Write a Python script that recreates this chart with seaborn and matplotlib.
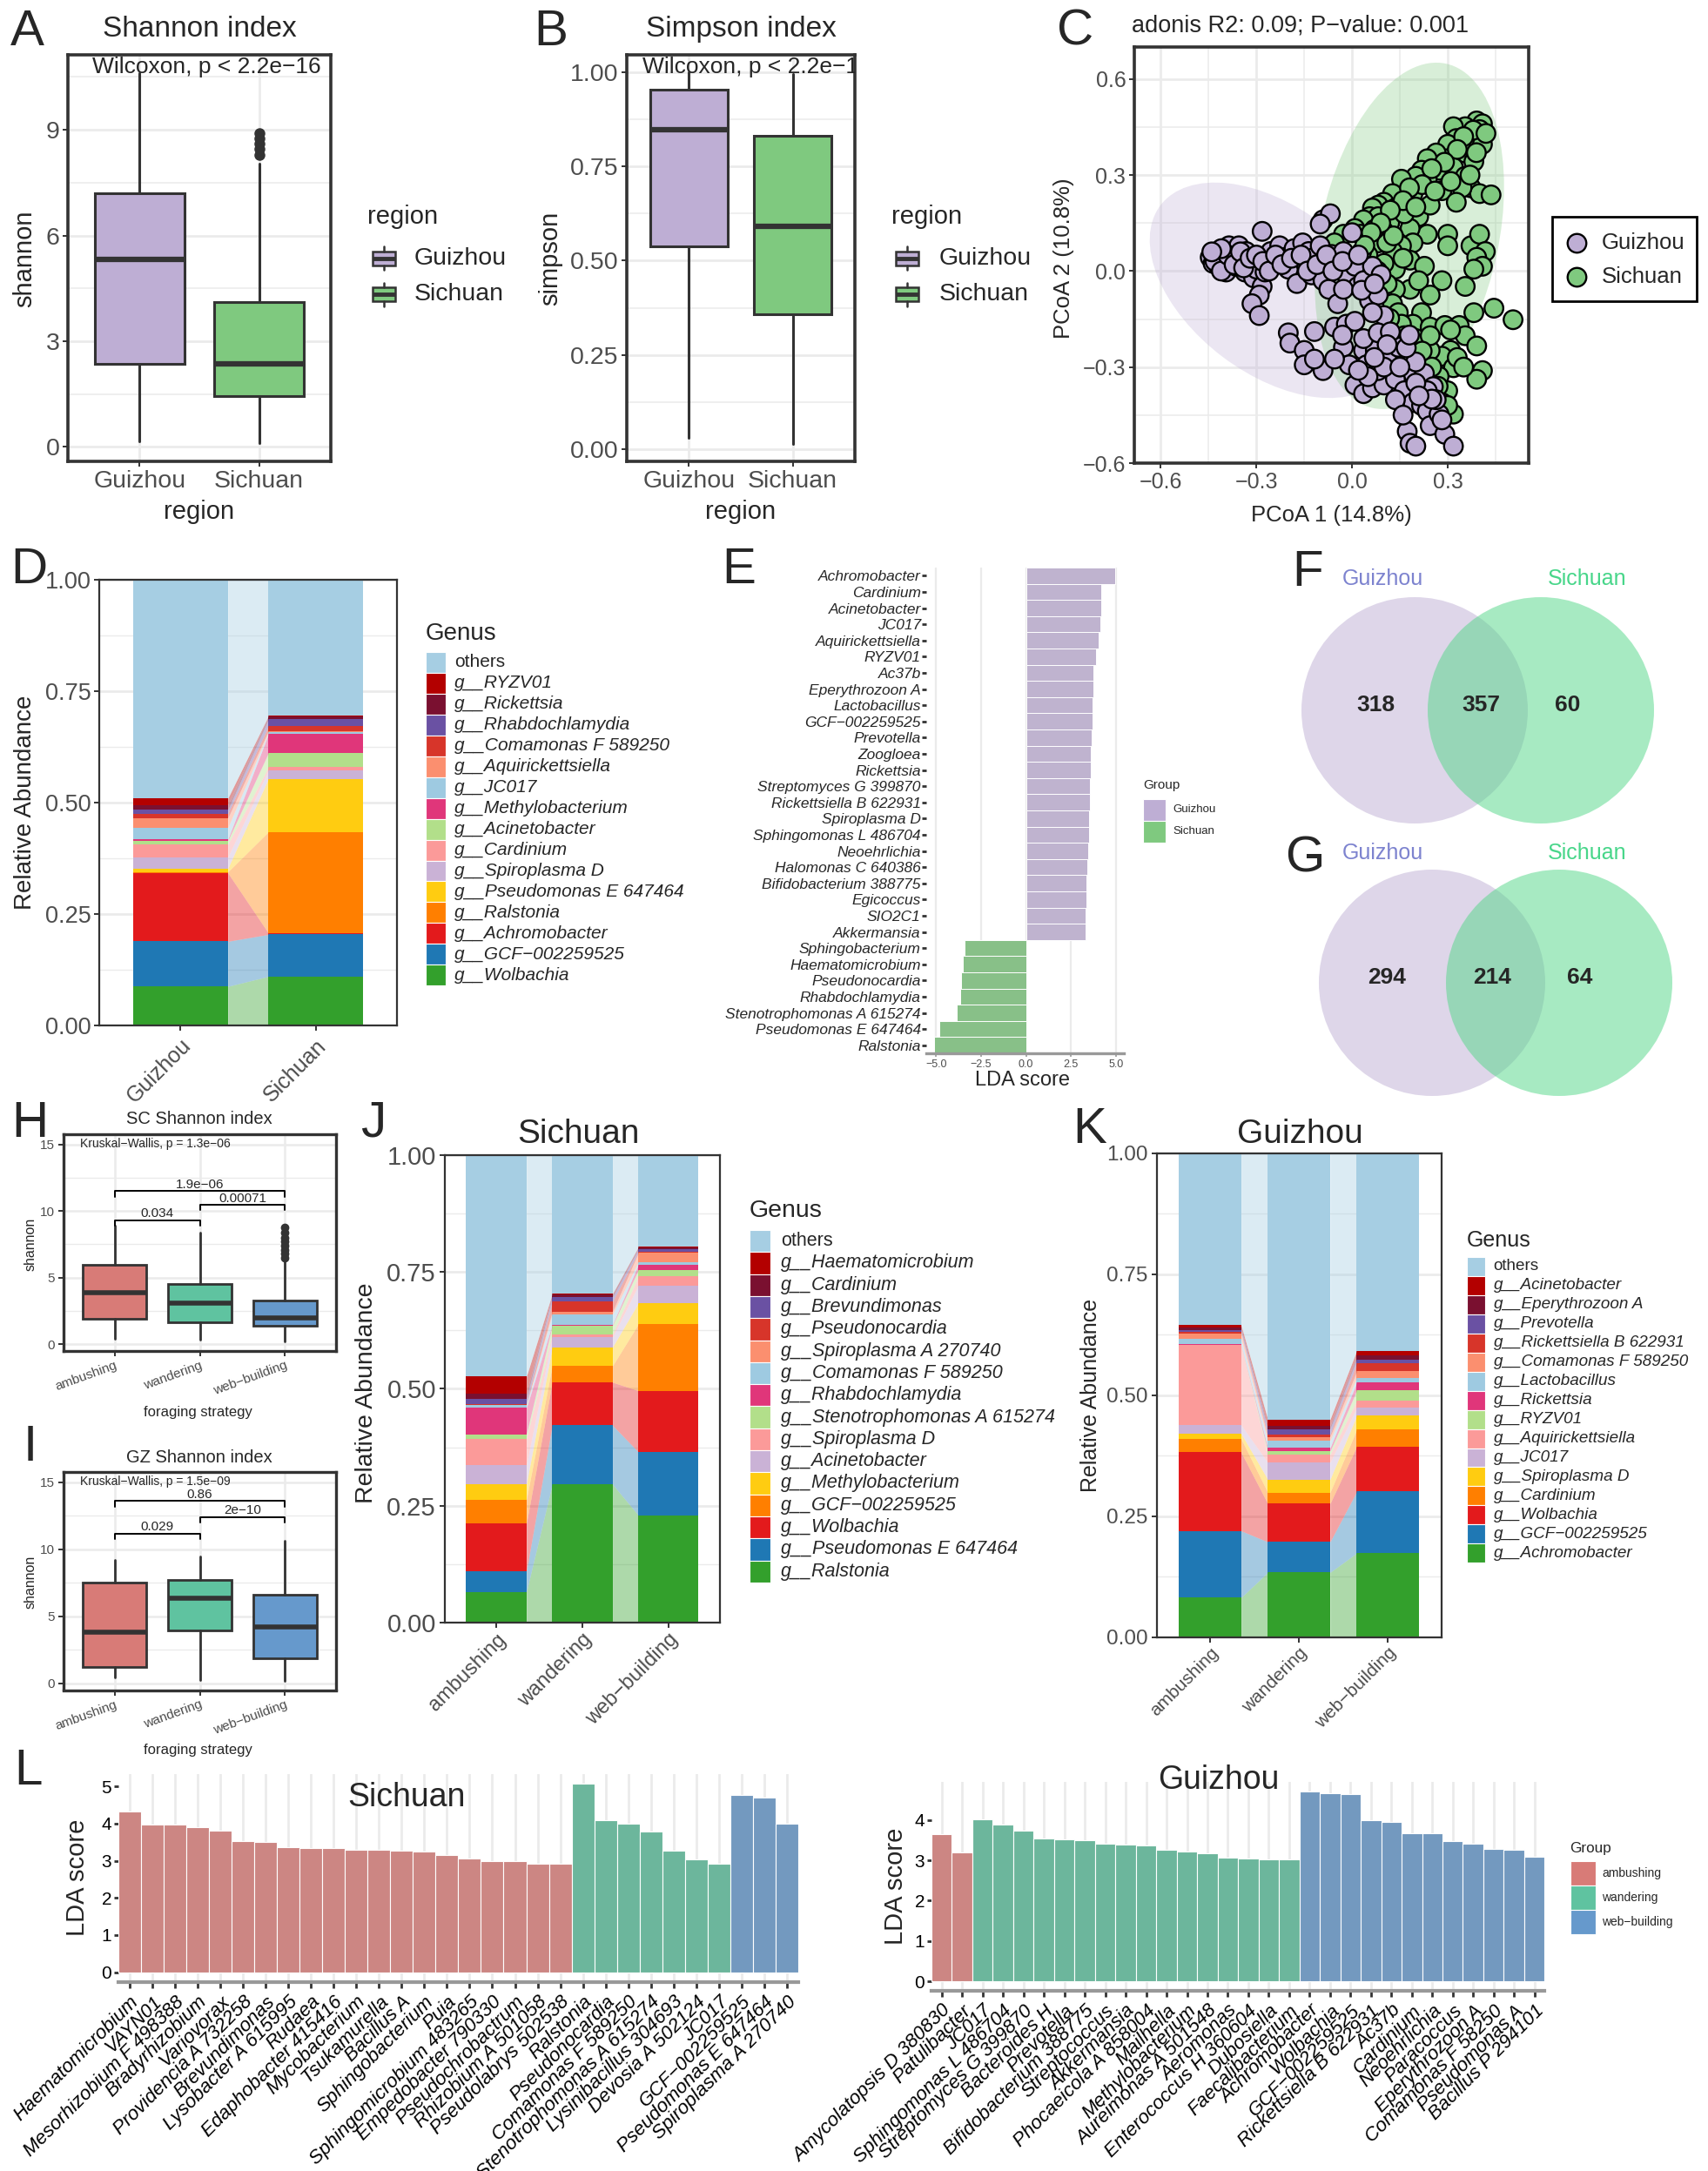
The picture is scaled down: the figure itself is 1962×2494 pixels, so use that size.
import numpy as np
import pandas as pd
import matplotlib
matplotlib.use("Agg")
import matplotlib.pyplot as plt
from matplotlib.patches import Ellipse, Rectangle, Circle
import seaborn as sns

W, H = 1962, 2494

# ---------------- data ----------------
regions = ["Guizhou", "Sichuan"]
region_colors = ["#BEAED4", "#7FC97F"]

# box summaries: whisker low, Q1, median, Q3, whisker high
shannon_box = [[0.17, 2.35, 5.32, 7.19, 10.6], [0.10, 1.45, 2.35, 4.12, 8.03]]
shannon_fliers = [[], [8.3, 8.45, 8.6, 8.75, 8.9]]
simpson_box = [[0.03, 0.538, 0.846, 0.952, 1.0], [0.015, 0.357, 0.590, 0.830, 0.995]]
simpson_fliers = [[], []]

# PCoA scores
gz_pc1 = [-0.445, -0.436, -0.427, -0.418, -0.409, -0.4, -0.395, -0.386, -0.382, -0.368, -0.364, -0.355,
          -0.345, -0.336, -0.332, -0.318, -0.309, -0.3, -0.282, -0.282, -0.291, -0.314, -0.291, -0.273,
          -0.255, -0.245, -0.227, -0.209, -0.2, -0.182, -0.173, -0.155, -0.145, -0.136, -0.127, -0.118,
          -0.1, -0.091, -0.082, -0.073, -0.064, -0.045, -0.027, -0.018, 0.0, 0.009, 0.018, 0.036, 0.055,
          0.064, 0.082, 0.091, 0.1, -0.045, -0.027, -0.091, -0.068, -0.1,
          -0.2, -0.195, -0.15, -0.15, -0.118, -0.091, -0.055, -0.018, 0.009, -0.027, 0.036, 0.073, 0.127,
          0.155, 0.173, 0.191, 0.227, 0.255, 0.009, 0.036, 0.064, 0.1, 0.136, 0.164, 0.191, 0.218, 0.236,
          0.245, 0.173, 0.182, 0.2, 0.291, 0.318, 0.273, 0.282, 0.036, 0.064, 0.082, 0.109, 0.145, 0.2,
          0.236, 0.264, 0.136, 0.082, 0.045, -0.009, -0.055, -0.118, 0.12, 0.17, 0.2, 0.1, 0.05, -0.03,
          0.16, 0.25,
          -0.43, -0.41, -0.39, -0.37, -0.35, -0.34, -0.32, -0.30, -0.28, -0.26, -0.24, -0.22, -0.19, -0.16,
          -0.14, -0.11, -0.08, -0.06, -0.03, 0.02, 0.03, 0.07, -0.41, -0.44,
          0.15, 0.21, 0.11, 0.07, 0.02, 0.18]
gz_pc2 = [0.043, 0.024, 0.052, 0.015, 0.038, 0.061, -0.003, 0.079, 0.034, 0.052, 0.015, 0.079,
          0.043, -0.003, 0.061, 0.024, -0.021, 0.006, 0.124, -0.048, -0.075, -0.102, -0.139, -0.003,
          0.061, 0.024, 0.079, 0.043, 0.006, 0.07, -0.039, 0.088, 0.024, 0.061, -0.012, 0.043,
          0.079, -0.03, 0.024, -0.057, 0.052, 0.024, 0.061, -0.012, 0.12, 0.015, -0.048, -0.03, -0.093,
          0.015, -0.075, -0.012, -0.139, -0.102, -0.057, 0.16, 0.179, 0.147,
          -0.193, -0.225, -0.248, -0.293, -0.189, -0.311, -0.175, -0.166, -0.157, -0.238, -0.248, -0.248,
          -0.211, -0.266, -0.293, -0.32, -0.32, -0.361, -0.356, -0.383, -0.365, -0.356, -0.338, -0.374,
          -0.411, -0.42, -0.438, -0.483, -0.501, -0.538, -0.547, -0.51, -0.547, -0.447, -0.465, -0.211,
          -0.13, -0.193, -0.266, -0.238, -0.284, -0.374, -0.402, -0.402, -0.311, -0.293, -0.293, -0.275,
          -0.275, -0.19, -0.24, -0.35, -0.3, -0.33, -0.2, -0.45, -0.4,
          0.03, 0.0, 0.05, 0.02, 0.06, 0.01, 0.04, 0.05, 0.03, 0.0, 0.05, 0.02, 0.04, 0.05,
          0.0, 0.02, 0.05, 0.0, 0.03, 0.05, -0.06, -0.04, 0.07, 0.06,
          -0.3, -0.39, -0.23, -0.27, -0.31, -0.2]
sc_pc1 = [0.391, 0.409, 0.4, 0.355, 0.318, 0.327, 0.373, 0.409, 0.3, 0.355, 0.382, 0.3, 0.264, 0.236,
          0.218, 0.273, 0.318, 0.355, 0.373, 0.4, 0.436, 0.345, 0.282, 0.236, 0.2, 0.155, 0.191, 0.145,
          0.127, 0.1, 0.136, 0.082, 0.064, 0.055, 0.082, 0.118, 0.209, 0.236, 0.182, 0.191, 0.155, 0.127,
          0.1, 0.082, 0.036, 0.009, 0.027, -0.027, -0.055, 0.245, 0.327, 0.164, 0.109, 0.136, 0.1,
          0.3, 0.3, 0.373, 0.4, 0.418, 0.391, 0.409, 0.382, 0.182, 0.227, 0.282, 0.355, 0.182, 0.209,
          0.245, 0.136, 0.127, 0.145, 0.218, 0.191, 0.245, 0.291, 0.336, 0.382, 0.445, 0.505, 0.355,
          0.391, 0.309, 0.282, 0.245, 0.318, 0.409, 0.391, 0.273, 0.3, 0.282, 0.318, 0.155, 0.164, 0.2,
          0.118, 0.309, 0.245, 0.05, 0.08, 0.11, 0.07, 0.13, 0.16, 0.03,
          0.38, 0.35, 0.33, 0.29, 0.25, 0.22, 0.18, 0.16, 0.12, 0.09, 0.06, 0.04, 0.2, 0.26, 0.31, 0.37,
          0.39, 0.42, 0.27, 0.3, 0.25, 0.33, 0.22, 0.35]
sc_pc2 = [0.469, 0.46, 0.442, 0.451, 0.451, 0.414, 0.414, 0.396, 0.396, 0.369, 0.342, 0.351, 0.369,
          0.351, 0.315, 0.315, 0.324, 0.296, 0.26, 0.242, 0.238, 0.26, 0.251, 0.287, 0.296, 0.287, 0.242,
          0.224, 0.242, 0.215, 0.197, 0.206, 0.197, 0.17, 0.17, 0.151, 0.17, 0.115, 0.133, 0.088, 0.079,
          0.061, 0.124, 0.088, 0.16, 0.133, 0.115, 0.115, 0.088, 0.206, 0.215, 0.179, 0.088, 0.006, 0.024,
          0.115, 0.079, 0.079, 0.115, 0.061, 0.043, 0.015, 0.006, 0.034, 0.015, -0.03, -0.048, -0.057,
          -0.03, -0.075, -0.057, -0.102, -0.13, -0.13, -0.166, -0.175, -0.17, -0.17, -0.13, -0.116, -0.152,
          -0.202, -0.234, -0.248, -0.266, -0.248, -0.302, -0.311, -0.338, -0.329, -0.374, -0.411, -0.447,
          -0.166, -0.202, -0.211, -0.148, -0.184, -0.202, 0.05, 0.0, -0.04, 0.13, 0.11, 0.04, 0.06,
          0.44, 0.42, 0.38, 0.34, 0.32, 0.27, 0.26, 0.22, 0.19, 0.15, 0.12, 0.08, 0.2, 0.25, 0.28, 0.3,
          0.37, 0.43, -0.36, -0.42, -0.3, -0.27, -0.25, -0.3]
# 95% ellipses: centre, full axes, angle
ell_centers = [(-0.25, -0.06), (0.18, 0.11)]
ell_axes = [(0.88, 0.52), (1.10, 0.56)]
ell_angles = [-37, 78]

# genus composition (legend order: others first, bottom-most genus last)
genus_pal = ["#A6CEE3", "#B30000", "#7A1030", "#6A51A3", "#D7352A", "#FB8F6F", "#9ECAE1", "#E0367A",
             "#B2DF8A", "#FB9A99", "#CAB2D6", "#FFCC11", "#FF7F00", "#E31A1C", "#1F78B4", "#33A02C"]
d_genus = ["others", "g__RYZV01", "g__Rickettsia", "g__Rhabdochlamydia", "g__Comamonas F 589250",
           "g__Aquirickettsiella", "g__JC017", "g__Methylobacterium", "g__Acinetobacter", "g__Cardinium",
           "g__Spiroplasma D", "g__Pseudomonas E 647464", "g__Ralstonia", "g__Achromobacter",
           "g__GCF\u2212002259525", "g__Wolbachia"]
d_guizhou = [0.491, 0.015, 0.011, 0.008, 0.010, 0.022, 0.026, 0.003, 0.008, 0.029, 0.025, 0.008, 0.002,
             0.1535, 0.101, 0.0875]
d_sichuan = [0.306, 0.001, 0.007, 0.015, 0.011, 0.003, 0.004, 0.042, 0.032, 0.007, 0.019, 0.119, 0.227,
             0.003, 0.094, 0.110]

strategies = ["ambushing", "wandering", "web\u2212building"]
strat_colors = ["#D87B77", "#5FC3A0", "#6699CC"]

j_genus = ["others", "g__Haematomicrobium", "g__Cardinium", "g__Brevundimonas", "g__Pseudonocardia",
           "g__Spiroplasma A 270740", "g__Comamonas F 589250", "g__Rhabdochlamydia",
           "g__Stenotrophomonas A 615274", "g__Spiroplasma D", "g__Acinetobacter", "g__Methylobacterium",
           "g__GCF\u2212002259525", "g__Wolbachia", "g__Pseudomonas E 647464", "g__Ralstonia"]
j_ambushing = [0.474, 0.036, 0.012, 0.010, 0.002, 0.001, 0.006, 0.056, 0.010, 0.056, 0.041, 0.033, 0.051,
               0.102, 0.044, 0.066]
j_wandering = [0.297, 0.001, 0.006, 0.010, 0.021, 0.006, 0.022, 0.002, 0.019, 0.006, 0.021, 0.040, 0.035,
               0.092, 0.126, 0.296]
j_webbuilding = [0.197, 0.001, 0.004, 0.006, 0.002, 0.019, 0.006, 0.011, 0.014, 0.019, 0.038, 0.045, 0.142,
                 0.131, 0.135, 0.230]

k_genus = ["others", "g__Acinetobacter", "g__Eperythrozoon A", "g__Prevotella", "g__Rickettsiella B 622931",
           "g__Comamonas F 589250", "g__Lactobacillus", "g__Rickettsia", "g__RYZV01", "g__Aquirickettsiella",
           "g__JC017", "g__Spiroplasma D", "g__Cardinium", "g__Wolbachia", "g__GCF\u2212002259525",
           "g__Achromobacter"]
k_ambushing = [0.355, 0.005, 0.005, 0.005, 0.002, 0.011, 0.012, 0.001, 0.001, 0.1645, 0.0175, 0.011, 0.028,
               0.162, 0.138, 0.082]
k_wandering = [0.550, 0.013, 0.007, 0.011, 0.005, 0.008, 0.015, 0.007, 0.007, 0.016, 0.035, 0.027, 0.023,
               0.079, 0.063, 0.134]
k_webbuilding = [0.408, 0.009, 0.009, 0.008, 0.017, 0.013, 0.010, 0.016, 0.021, 0.015, 0.016, 0.029, 0.035,
                 0.093, 0.127, 0.174]

# LEfSe Guizhou vs Sichuan
e_genus = ["Achromobacter", "Cardinium", "Acinetobacter", "JC017", "Aquirickettsiella", "RYZV01", "Ac37b",
           "Eperythrozoon A", "Lactobacillus", "GCF\u2212002259525", "Prevotella", "Zoogloea", "Rickettsia",
           "Streptomyces G 399870", "Rickettsiella B 622931", "Spiroplasma D", "Sphingomonas L 486704",
           "Neoehrlichia", "Halomonas C 640386", "Bifidobacterium 388775", "Egicoccus", "SIO2C1",
           "Akkermansia", "Sphingobacterium", "Haematomicrobium", "Pseudonocardia", "Rhabdochlamydia",
           "Stenotrophomonas A 615274", "Pseudomonas E 647464", "Ralstonia"]
e_score = [4.97, 4.17, 4.17, 4.14, 4.05, 3.88, 3.75, 3.74, 3.70, 3.69, 3.65, 3.62, 3.60, 3.56, 3.56, 3.51,
           3.49, 3.46, 3.43, 3.37, 3.36, 3.34, 3.30, -3.43, -3.51, -3.62, -3.67, -3.84, -4.83, -5.12]
e_group = ["Guizhou"] * 23 + ["Sichuan"] * 7

# Venn counts: Guizhou only, shared, Sichuan only
f_counts = [318, 357, 60]
g_counts = [294, 214, 64]

# Shannon by foraging strategy
h_box = [[0.42, 1.92, 3.87, 5.95, 8.88], [0.36, 1.63, 3.06, 4.52, 8.40], [0.20, 1.37, 1.99, 3.29, 6.38]]
h_fliers = [[], [], [6.5, 6.8, 7.1, 7.4, 7.7, 8.0, 8.4, 8.75]]
h_tests = [(1, 2, "0.034", 9.31), (2, 3, "0.00071", 10.45), (1, 3, "1.9e\u221206", 11.49)]
i_box = [[0.42, 1.23, 3.82, 7.48, 9.17], [0.23, 3.92, 6.35, 7.71, 9.49], [0.16, 1.88, 4.18, 6.58, 10.63]]
i_fliers = [[], [], []]
i_tests = [(1, 2, "0.029", 11.18), (2, 3, "2e\u221210", 12.41), (1, 3, "0.86", 13.6)]

# LEfSe by foraging strategy
ls_genus = ["Haematomicrobium", "VAYN01", "Mesorhizobium F 498388", "Bradyrhizobium", "Variovorax",
            "Providencia A 732258", "Brevundimonas", "Lysobacter A 615995", "Rudaea", "Edaphobacter 415416",
            "Mycobacterium", "Tsukamurella", "Bacillus A", "Sphingobacterium", "Puia",
            "Sphingomicrobium 483265", "Empedobacter 790330", "Pseudochrobactrum", "Rhizobium A 501058",
            "Pseudolabrys 502538", "Ralstonia", "Pseudonocardia", "Comamonas F 589250",
            "Stenotrophomonas A 615274", "Lysinibacillus 304693", "Devosia A 502124", "JC017",
            "GCF\u2212002259525", "Pseudomonas E 647464", "Spiroplasma A 270740"]
ls_score = [4.33, 3.98, 3.97, 3.91, 3.80, 3.52, 3.50, 3.375, 3.35, 3.34, 3.30, 3.30, 3.28, 3.25, 3.15,
            3.06, 3.00, 2.98, 2.93, 2.93, 5.08, 4.09, 3.99, 3.79, 3.28, 3.04, 2.92, 4.77, 4.70, 3.99]
ls_group = ["ambushing"] * 20 + ["wandering"] * 7 + ["web\u2212building"] * 3
lg_genus = ["Amycolatopsis D 380830", "Patulibacter", "JC017", "Sphingomonas L 486704",
            "Streptomyces G 399870", "Bacteroides H", "Prevotella", "Bifidobacterium 388775", "Streptococcus",
            "Akkermansia", "Phocaeicola A 858004", "Mailhella", "Methylobacterium", "Aureimonas A 501548",
            "Aeromonas", "Enterococcus H 360604", "Dubosiella", "Faecalibacterium", "Achromobacter",
            "Wolbachia", "GCF\u2212002259525", "Rickettsiella B 622931", "Ac37b", "Cardinium", "Neoehrlichia",
            "Paracoccus", "Eperythrozoon A", "Comamonas F 58250", "Pseudomonas A", "Bacillus P 294101"]
lg_score = [3.64, 3.19, 4.01, 3.88, 3.73, 3.55, 3.51, 3.49, 3.42, 3.38, 3.36, 3.26, 3.21, 3.17, 3.06, 3.05,
            3.03, 3.02, 4.71, 4.67, 4.65, 4.00, 3.95, 3.66, 3.66, 3.47, 3.42, 3.28, 3.25, 3.09]
lg_group = ["ambushing"] * 2 + ["wandering"] * 16 + ["web\u2212building"] * 12

# ---------------- style ----------------
sns.set_theme(style="white")
plt.rcParams["font.family"] = ["Liberation Sans", "DejaVu Sans"]
plt.rcParams["axes.unicode_minus"] = True

GRID = "#EBEBEB"
DARK = "#333333"
TICKC = "#4D4D4D"

fig = plt.figure(figsize=(W / 100, H / 100), dpi=100)
fig.patch.set_facecolor("white")


def px_ax(x0, y0, x1, y1):
    return fig.add_axes([x0 / W, 1 - y1 / H, (x1 - x0) / W, (y1 - y0) / H])


def bw_frame(ax, spine_lw, grid_lw, fs, minor_x=False):
    ax.set_axisbelow(True)
    ax.grid(True, which="major", color=GRID, linewidth=grid_lw)
    ax.grid(True, which="minor", axis="both" if minor_x else "y", color=GRID, linewidth=grid_lw * 0.55)
    for sp in ax.spines.values():
        sp.set_visible(True)
        sp.set_color(DARK)
        sp.set_linewidth(spine_lw)
    ax.tick_params(which="major", length=4, width=1.4, color=DARK, labelcolor=TICKC, labelsize=fs,
                   pad=3, left=True, bottom=True)
    ax.tick_params(which="minor", length=0, left=False, bottom=False)


def box_panel(ax, stats, fliers, colors, lw, med_lw, ms):
    bstats = [dict(whislo=s[0], q1=s[1], med=s[2], q3=s[3], whishi=s[4], fliers=f)
              for s, f in zip(stats, fliers)]
    art = ax.bxp(bstats, positions=range(1, len(stats) + 1), widths=0.75, patch_artist=True,
                 showcaps=False, boxprops=dict(edgecolor=DARK, linewidth=lw),
                 whiskerprops=dict(color=DARK, linewidth=lw),
                 medianprops=dict(color=DARK, linewidth=med_lw, solid_capstyle="butt"),
                 flierprops=dict(marker="o", markerfacecolor=DARK, markeredgecolor=DARK, markersize=ms))
    for b, c in zip(art["boxes"], colors):
        b.set_facecolor(c)
    ax.set_xlim(0.4, len(stats) + 0.6)


def alluvial(ax, groups_vals, colors, width=0.7):
    vals = np.array(groups_vals).T
    n = vals.shape[1]
    xs = np.arange(1, n + 1)
    base = np.zeros(n)
    for row, col in zip(vals[::-1], colors[::-1]):
        ax.bar(xs, row, bottom=base, width=width, color=col, linewidth=0, zorder=2)
        for i in range(n - 1):
            ax.fill_between([xs[i] + width / 2, xs[i + 1] - width / 2], [base[i], base[i + 1]],
                            [base[i] + row[i], base[i + 1] + row[i + 1]], color=col, alpha=0.4,
                            linewidth=0, zorder=2)
        base = base + row
    ax.set_xlim(0.4, n + 0.6)
    ax.set_ylim(0, 1)
    ax.set_axisbelow(True)
    ax.set_yticks([0, 0.25, 0.5, 0.75, 1.0])
    ax.set_yticks([0.125, 0.375, 0.625, 0.875], minor=True)
    ax.grid(True, which="major", axis="y", color=GRID, linewidth=2)
    ax.grid(True, which="minor", axis="y", color=GRID, linewidth=1)
    for sp in ax.spines.values():
        sp.set_visible(True)
        sp.set_color(DARK)
        sp.set_linewidth(1.6)
    ax.set_xticks(xs)


# ---------------- A: Shannon ----------------
axA = px_ax(78, 63, 380, 530)
box_panel(axA, shannon_box, shannon_fliers, region_colors, 2.2, 4.5, 8)
axA.set_ylim(-0.41, 11.13)
axA.set_yticks([0, 3, 6, 9])
axA.set_yticks([1.5, 4.5, 7.5, 10.5], minor=True)
axA.set_xticks([1, 2])
axA.set_xticklabels(regions)
bw_frame(axA, 2.6, 2.0, 20.5)
axA.text(0.093, 0.955, "Wilcoxon, p < 2.2e\u221216", transform=axA.transAxes, fontsize=19,
         va="baseline", ha="left")

# ---------------- B: Simpson ----------------
axB = px_ax(720, 63, 982, 530)
box_panel(axB, simpson_box, simpson_fliers, region_colors, 2.2, 4.5, 8)
axB.set_ylim(-0.032, 1.045)
axB.set_yticks([0, 0.25, 0.5, 0.75, 1.0])
axB.set_yticklabels(["0.00", "0.25", "0.50", "0.75", "1.00"])
axB.set_yticks([0.125, 0.375, 0.625, 0.875], minor=True)
axB.set_xticks([1, 2])
axB.set_xticklabels(regions)
bw_frame(axB, 2.6, 2.0, 20.5)
axB.text(0.069, 0.955, "Wilcoxon, p < 2.2e\u221216", transform=axB.transAxes, fontsize=19,
         va="baseline", ha="left", clip_on=True)

# ---------------- C: PCoA ----------------
axC = px_ax(1303, 54, 1756, 532)
for (cx, cy), (ew, eh), ang, col in zip(ell_centers, ell_axes, ell_angles, region_colors):
    axC.add_patch(Ellipse((cx, cy), ew, eh, angle=ang, facecolor=col, alpha=0.3, linewidth=0, zorder=1))
pcoa = pd.DataFrame({"PC1": sc_pc1 + gz_pc1, "PC2": sc_pc2 + gz_pc2,
                     "region": ["Sichuan"] * len(sc_pc1) + ["Guizhou"] * len(gz_pc1)})
sns.scatterplot(data=pcoa, x="PC1", y="PC2", hue="region", palette=dict(zip(regions, region_colors)),
                s=240, edgecolor="black", linewidth=1.7, legend=False, ax=axC, zorder=3)
axC.set_xlim(-0.683, 0.554)
axC.set_ylim(-0.6, 0.70)
c_xt = [-0.6, -0.3, 0.0, 0.3]
c_yt = [-0.6, -0.3, 0.0, 0.3, 0.6]
axC.set_xticks(c_xt)
axC.set_xticklabels([f"{v:.1f}".replace("-", "\u2212") for v in c_xt])
axC.set_yticks(c_yt)
axC.set_yticklabels([f"{v:.1f}".replace("-", "\u2212") for v in c_yt])
axC.set_xticks([-0.45, -0.15, 0.15, 0.45], minor=True)
axC.set_yticks([-0.45, -0.15, 0.15, 0.45], minor=True)
bw_frame(axC, 2.6, 2.0, 18, minor_x=True)
axC.set_xlabel("")
axC.set_ylabel("")

# ---------------- D: composition by region ----------------
axD = px_ax(114, 665.5, 456, 1178)
alluvial(axD, [d_guizhou, d_sichuan], genus_pal)
axD.set_yticklabels(["0.00", "0.25", "0.50", "0.75", "1.00"])
axD.set_xticklabels(regions, rotation=45, ha="right", va="top", rotation_mode="anchor")
axD.tick_params(axis="y", length=4, width=1.4, color=DARK, labelcolor=TICKC, labelsize=19.5, left=True, pad=3)
axD.tick_params(axis="x", length=4, width=1.4, color=DARK, labelcolor=TICKC, labelsize=18, bottom=True, pad=4)

# ---------------- E: LDA region ----------------
axE = px_ax(1064, 652, 1291, 1210)
lda_df = pd.DataFrame({"genus": e_genus, "score": e_score, "group": e_group})
sns.barplot(data=lda_df, y="genus", x="score", hue="group", order=e_genus, hue_order=regions,
            palette=dict(zip(regions, region_colors)), dodge=False, width=1.0, orient="h",
            errorbar=None, legend=False, edgecolor="white", linewidth=0.7, ax=axE)
axE.set_ylim(len(e_genus) - 0.5, -0.5)
axE.set_xlim(-5.55, 5.45)
axE.set_xticks([-5, -2.5, 0, 2.5, 5])
axE.set_xticklabels(["\u22125.0", "\u22122.5", "0.0", "2.5", "5.0"])
axE.set_axisbelow(True)
axE.grid(True, axis="x", color=GRID, linewidth=1.6)
for s in ["top", "right", "left"]:
    axE.spines[s].set_visible(False)
axE.spines["bottom"].set_color("#999999")
axE.spines["bottom"].set_linewidth(2.4)
axE.tick_params(axis="x", length=3, width=1.2, color="#999999", labelcolor=TICKC, labelsize=9,
                bottom=True, pad=2)
axE.tick_params(axis="y", length=3.5, width=2, color=DARK, labelsize=12.5, left=True, pad=1)
for t in axE.get_yticklabels():
    t.set_fontstyle("italic")
axE.set_xlabel("")
axE.set_ylabel("")


# ---------------- H / I: Shannon by strategy ----------------
def strat_box(ax, stats, fliers, tests, kw_text):
    box_panel(ax, stats, fliers, strat_colors, 2.0, 4.0, 6)
    ax.set_ylim(-0.52, 15.77)
    ax.set_yticks([0, 5, 10, 15])
    ax.set_yticks([2.5, 7.5, 12.5], minor=True)
    ax.set_xticks([1, 2, 3])
    ax.set_xticklabels(strategies, rotation=20, ha="right", va="top", rotation_mode="anchor")
    bw_frame(ax, 2.4, 1.8, 11)
    for x1, x2, lab, y in tests:
        ax.plot([x1, x1, x2, x2], [y - 0.4, y, y, y - 0.4], color="black", linewidth=1.4)
        ax.text((x1 + x2) / 2, y + 0.05, lab, ha="center", va="bottom", fontsize=11)
    ax.text(0.59, 15.05, kw_text, ha="left", va="center", fontsize=10)


axH = px_ax(73, 1303, 386, 1552)
strat_box(axH, h_box, h_fliers, h_tests, "Kruskal\u2212Wallis, p = 1.3e\u221206")
axI = px_ax(73, 1691, 386, 1941.5)
strat_box(axI, i_box, i_fliers, i_tests, "Kruskal\u2212Wallis, p = 1.5e\u221209")

# ---------------- J / K: composition by strategy ----------------
axJ = px_ax(510.7, 1326.5, 827.2, 1864.3)
alluvial(axJ, [j_ambushing, j_wandering, j_webbuilding], genus_pal)
axJ.set_yticklabels(["0.00", "0.25", "0.50", "0.75", "1.00"])
axJ.set_xticklabels(strategies, rotation=45, ha="right", va="top", rotation_mode="anchor")
axJ.tick_params(axis="y", length=4, width=1.4, color=DARK, labelcolor=TICKC, labelsize=21, left=True, pad=3)
axJ.tick_params(axis="x", length=4, width=1.4, color=DARK, labelcolor=TICKC, labelsize=17, bottom=True, pad=2)

axK = px_ax(1328.5, 1324.6, 1655.6, 1880.9)
alluvial(axK, [k_ambushing, k_wandering, k_webbuilding], genus_pal)
axK.set_yticklabels(["0.00", "0.25", "0.50", "0.75", "1.00"])
axK.set_xticklabels(strategies, rotation=45, ha="right", va="top", rotation_mode="anchor")
axK.tick_params(axis="y", length=4, width=1.4, color=DARK, labelcolor=TICKC, labelsize=17.5, left=True, pad=3)
axK.tick_params(axis="x", length=4, width=1.4, color=DARK, labelcolor=TICKC, labelsize=15, bottom=True, pad=2)


# ---------------- L: LDA by strategy ----------------
def lda_strat(ax, names, scores, groups, ylim, yticks):
    df = pd.DataFrame({"genus": names, "score": scores, "group": groups})
    sns.barplot(data=df, x="genus", y="score", hue="group", order=names, hue_order=strategies,
                palette=dict(zip(strategies, strat_colors)), dodge=False, width=1.0, errorbar=None,
                legend=False, edgecolor="white", linewidth=0.8, ax=ax)
    ax.set_xlim(-0.5, len(names) - 0.5)
    ax.set_ylim(*ylim)
    ax.set_yticks(yticks)
    ax.set_axisbelow(True)
    ax.grid(True, axis="x", color=GRID, linewidth=2)
    for s in ["top", "right", "left"]:
        ax.spines[s].set_visible(False)
    ax.spines["bottom"].set_color("#999999")
    ax.spines["bottom"].set_linewidth(3)
    ax.set_xticks(range(len(names)))
    ax.set_xticklabels(names, rotation=45, ha="right", va="top", rotation_mode="anchor",
                       fontstyle="italic")
    ax.tick_params(axis="x", length=5, width=2, color=DARK, labelsize=16, labelcolor="black",
                   bottom=True, pad=4)
    ax.tick_params(axis="y", length=3.5, width=2, color=DARK, labelsize=15, labelcolor="black",
                   left=True, pad=2)
    ax.set_xlabel("")
    ax.set_ylabel("")


axLS = px_ax(135.8, 2038, 917, 2276.5)
lda_strat(axLS, ls_genus, ls_score, ls_group, (-0.253, 5.33), [0, 1, 2, 3, 4, 5])
axLG = px_ax(1070, 2046.7, 1774.4, 2287)
lda_strat(axLG, lg_genus, lg_score, lg_group, (-0.236, 4.95), [0, 1, 2, 3, 4])

# ---------------- overlay: letters, titles, legends, Venn ----------------
ov = fig.add_axes([0, 0, 1, 1], zorder=20)
ov.set_xlim(0, W)
ov.set_ylim(H, 0)
ov.axis("off")
ov.patch.set_alpha(0)

for lab, x, y in [("A", 12, 52), ("B", 613, 52), ("C", 1214, 52), ("D", 12, 670), ("E", 829, 670),
                  ("F", 1484, 673), ("G", 1476, 1001), ("H", 13, 1306), ("I", 27, 1678),
                  ("J", 414, 1306), ("K", 1232, 1313), ("L", 16, 2050)]:
    ov.text(x, y, lab, fontsize=42, ha="left", va="baseline")

ov.text(229, 42, "Shannon index", fontsize=24, ha="center", va="baseline")
ov.text(851, 42, "Simpson index", fontsize=24, ha="center", va="baseline")
ov.text(1300, 37, "adonis R2: 0.09; P\u2212value: 0.001", fontsize=19.5, ha="left", va="baseline")

# axis titles
ov.text(28, 297, "shannon", fontsize=21, rotation=90, ha="center", va="center")
ov.text(229, 588, "region", fontsize=21, ha="center", va="center")
ov.text(632, 297, "simpson", fontsize=21, rotation=90, ha="center", va="center")
ov.text(851, 588, "region", fontsize=21, ha="center", va="center")
ov.text(1222, 297, "PCoA 2 (10.8%)", fontsize=18.5, rotation=90, ha="center", va="center")
ov.text(1529, 592, "PCoA 1 (14.8%)", fontsize=18.5, ha="center", va="center")
ov.text(29, 922, "Relative Abundance", fontsize=20, rotation=90, ha="center", va="center")
ov.text(1175, 1241, "LDA score", fontsize=17, ha="center", va="center")
ov.text(421, 1600, "Relative Abundance", fontsize=20.5, rotation=90, ha="center", va="center")
ov.text(1253, 1603, "Relative Abundance", fontsize=18, rotation=90, ha="center", va="center")
ov.text(35, 1429, "shannon", fontsize=11.5, rotation=90, ha="center", va="center")
ov.text(35, 1817, "shannon", fontsize=11.5, rotation=90, ha="center", va="center")
ov.text(227, 1623, "foraging strategy", fontsize=12, ha="center", va="center")
ov.text(227, 2011, "foraging strategy", fontsize=12, ha="center", va="center")
ov.text(229, 1291, "SC Shannon index", fontsize=14.5, ha="center", va="baseline")
ov.text(229, 1680, "GZ Shannon index", fontsize=14.5, ha="center", va="baseline")
ov.text(664, 1313, "Sichuan", fontsize=28, ha="center", va="baseline")
ov.text(1493, 1313, "Guizhou", fontsize=28, ha="center", va="baseline")
ov.text(467, 2075, "Sichuan", fontsize=27, ha="center", va="baseline")
ov.text(1400, 2055, "Guizhou", fontsize=27, ha="center", va="baseline")
ov.text(89, 2157, "LDA score", fontsize=21, rotation=90, ha="center", va="center")
ov.text(1029, 2167, "LDA score", fontsize=21, rotation=90, ha="center", va="center")


def box_key(x0, yc, size, color):
    cx = x0 + size / 2
    y0 = yc - size / 2
    ov.plot([cx, cx], [y0 + 0.08 * size, y0 + 0.25 * size], color=DARK, lw=1.8)
    ov.plot([cx, cx], [y0 + 0.75 * size, y0 + 0.92 * size], color=DARK, lw=1.8)
    ov.add_patch(Rectangle((x0 + 0.1 * size, y0 + 0.25 * size), 0.8 * size, 0.5 * size,
                           facecolor=color, edgecolor=DARK, lw=1.8))
    ov.plot([x0 + 0.1 * size, x0 + 0.9 * size], [yc, yc], color=DARK, lw=3.5, solid_capstyle="butt")


for lx, kx, tx in [(422, 425, 476), (1024, 1026, 1079)]:
    ov.text(lx, 257, "region", fontsize=21, ha="left", va="baseline")
    for yc, nm, col in zip([296.5, 338.4], regions, region_colors):
        box_key(kx, yc, 32, col)
        ov.text(tx, yc, nm, fontsize=20.5, ha="left", va="center")

# C legend
ov.add_patch(Rectangle((1783, 248.5), 166, 97.5, facecolor="white", edgecolor="black", lw=2, zorder=1))
for yc, nm, col in zip([278.5, 317.6], regions, region_colors):
    ov.scatter([1811], [yc], s=240, facecolor=col, edgecolor="black", linewidth=1.7, zorder=2)
    ov.text(1840, yc, nm, fontsize=18.5, ha="left", va="center", zorder=2)


def genus_legend(x, title_base, first_top, step, key_w, gap, names, colors, title_fs, fs):
    ov.text(x, title_base, "Genus", fontsize=title_fs, ha="left", va="baseline")
    for i, (nm, col) in enumerate(zip(names, colors)):
        top = first_top + i * step
        ov.add_patch(Rectangle((x, top), key_w, step, facecolor=col, edgecolor="white", lw=0.8))
        ov.text(x + key_w + gap, top + step / 2, nm, fontsize=fs, ha="left", va="center",
                fontstyle="normal" if nm == "others" else "italic")


genus_legend(489, 735, 749, 23.95, 23, 10, d_genus, genus_pal, 20, 15)
genus_legend(861, 1398, 1413, 25.3, 24, 12, j_genus, genus_pal, 20.5, 15.5)
genus_legend(1685, 1432, 1444, 21.95, 21, 9.5, k_genus, genus_pal, 18, 13.6)


def group_legend(x, title_base, first_top, step, key_w, names, colors, title_fs, fs):
    ov.text(x, title_base, "Group", fontsize=title_fs, ha="left", va="baseline")
    for i, (nm, col) in enumerate(zip(names, colors)):
        top = first_top + i * step
        ov.add_patch(Rectangle((x, top), key_w, step, facecolor=col, edgecolor="white", lw=0.8))
        ov.text(x + key_w + 8, top + step / 2, nm, fontsize=fs, ha="left", va="center")


group_legend(1313, 906, 917.6, 25.2, 26, regions, region_colors, 11, 9.5)
group_legend(1803.5, 2128, 2137.7, 28, 29, strategies, strat_colors, 12.3, 10)

# Venn diagrams
venn_fill = ["#BEAED4", "#51D787"]
venn_text = ["#7D83CF", "#48D68A"]
for counts, centers, num_x, lab_y, num_y in [
        (f_counts, [(1625, 816), (1770, 816)], [1580, 1701, 1801], 665, 810),
        (g_counts, [(1645, 1129), (1791, 1129)], [1593, 1714, 1815], 980, 1123)]:
    for (cx, cy), col in zip(centers, venn_fill):
        ov.add_patch(Circle((cx, cy), 130, facecolor=col, alpha=0.5, linewidth=0))
    for nm, lx, col in zip(regions, [1588, 1823], venn_text):
        ov.text(lx, lab_y, nm, fontsize=18, color=col, ha="center", va="center")
    for n, nx in zip(counts, num_x):
        ov.text(nx, num_y, str(n), fontsize=19, fontweight="bold", ha="center", va="center")

fig.savefig("out.png", dpi=100)
